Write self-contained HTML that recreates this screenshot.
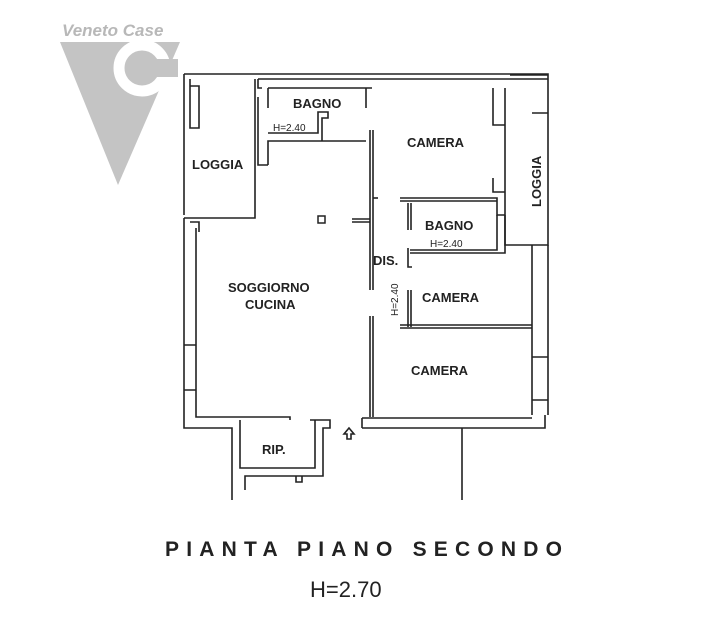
<!DOCTYPE html>
<html><head><meta charset="utf-8"><style>
html,body{margin:0;padding:0;background:#fff;width:721px;height:618px;overflow:hidden}
svg{display:block}
text{font-family:"Liberation Sans",Arial,sans-serif}
</style></head><body>
<svg width="721" height="618" viewBox="0 0 721 618" xmlns="http://www.w3.org/2000/svg">
<text x="62" y="36" font-size="17" font-weight="bold" font-style="italic" fill="#b8b8b8">Veneto Case</text>
<polygon points="60,42 180,42 118,185" fill="#c4c4c4"/>
<circle cx="142" cy="68" r="23" fill="none" stroke="#fff" stroke-width="11"/>
<rect x="148" y="59" width="30" height="18" fill="#c4c4c4"/>
<g fill="none" stroke="#222" stroke-width="1.6">
<path d="M184,74 H548 V113"/>
<path d="M258,79 H548"/>
<path d="M184,74 V215"/>
<path d="M190,79 V128 H199 V86 H190"/>
<path d="M184,218 H255 V79"/>
<path d="M258,79 V88 H262"/>
<path d="M258,97 V165 H268"/>
<path d="M184,218 V428 H232 V500"/>
<path d="M196,228 V417 H290 V420"/>
<path d="M190,222 H199 V232"/>
<path d="M184,345 H196 M184,390 H196"/>
<path d="M268,88 H372"/>
<path d="M268,108 V88"/>
<path d="M268,165 V141 H366"/>
<path d="M268,133 H318 V112 H328 V118 H322 V141"/>
<path d="M366,88 V108"/>
<path d="M370,130 V290 M373,130 V290"/>
<path d="M370,316 V417 M373,316 V417"/>
<path d="M352,219 H370 M352,222 H370"/>
<path d="M373,198 H378"/>
<path d="M493,88 V125 H505"/>
<path d="M493,178 V192 H505"/>
<path d="M400,198 H497 V215 H505"/>
<path d="M400,201 H497"/>
<path d="M408,203 V230 M411,203 V230"/>
<path d="M505,88 V245 H532"/>
<path d="M548,113 H532 M548,113 V245 H532"/>
<path d="M510,75 H548"/>
<path d="M505,215 V253 H410"/>
<path d="M497,215 V250 H410"/>
<path d="M408,248 V267 H412"/>
<path d="M408,290 V327 M411,290 V327"/>
<path d="M400,325 H532 M400,328 H532"/>
<path d="M532,245 V415 M548,245 V415"/>
<path d="M532,357 H548 M532,400 H548"/>
<path d="M362,418 H532 M362,428 H545 V415"/>
<path d="M362,418 V428"/>
<path d="M462,428 V500"/>
<path d="M240,420 V468 H315 V420"/>
<path d="M310,420 H330 V428 H323 V476 H245 V490"/>
<path d="M296,476 V482 H302 V476"/>
<path d="M349,428 l5,6 h-3 v5 h-4 v-5 h-3 z"/>
</g>
<rect x="318" y="216" width="7" height="7" fill="none" stroke="#222" stroke-width="1.5"/>
<g font-size="13" fill="#222" font-weight="bold">
<text x="293" y="108">BAGNO</text>
<text x="407" y="147">CAMERA</text>
<text x="192" y="169">LOGGIA</text>
<text x="425" y="230">BAGNO</text>
<text x="373" y="265">DIS.</text>
<text x="422" y="302">CAMERA</text>
<text x="411" y="375">CAMERA</text>
<text x="228" y="292">SOGGIORNO</text>
<text x="245" y="309">CUCINA</text>
<text x="262" y="454">RIP.</text>
<text transform="translate(541,207) rotate(-90)">LOGGIA</text>
</g>
<g font-size="10" fill="#222">
<text x="273" y="131">H=2.40</text>
<text x="430" y="247">H=2.40</text>
<text transform="translate(398,316) rotate(-90)">H=2.40</text>
</g>
<text x="165" y="556" font-size="21" font-weight="bold" fill="#222" letter-spacing="7.2">PIANTA PIANO SECONDO</text>
<text x="310" y="597" font-size="22" fill="#222">H=2.70</text>
</svg>
</body></html>
